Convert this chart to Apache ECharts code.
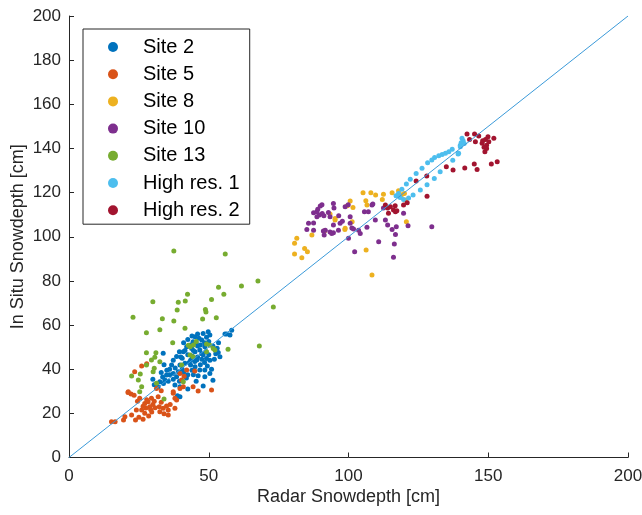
<!DOCTYPE html>
<html>
<head>
<meta charset="utf-8">
<script src="https://cdn.jsdelivr.net/npm/echarts@6/dist/echarts.min.js"></script>
<style>html,body{margin:0;padding:0;background:#fff}#c{width:642px;height:515px}</style>
</head>
<body>
<div id="c"></div>
<script>
const seriesNames = ['Site 2','Site 5','Site 8','Site 10','Site 13','High res. 1','High res. 2'];
const xTicks = [0,50,100,150,200];
const yTicks = [0,20,40,60,80,100,120,140,160,180,200];

const site2 = [[57.6,55.5],[58.2,57.7],[55.8,55.9],[49.8,57.0],[50.4,55.5],[49.2,54.5],[48.0,56.2],[47.5,53.2],[46.5,54.0],[45.1,54.7],[44.4,52.4],[43.5,51.0],[43.9,49.4],[42.1,50.2],[40.9,47.9],[39.5,47.9],[38.5,45.7],[40.0,45.5],[42.5,46.5],[45.1,47.9],[46.8,48.7],[48.6,50.2],[48.0,46.5],[49.2,44.9],[50.4,44.0],[47.5,44.5],[45.7,44.2],[43.5,44.0],[41.5,42.7],[39.7,41.9],[37.3,44.0],[36.7,41.9],[43.5,41.9],[45.1,41.1],[46.8,39.6],[48.6,39.6],[50.4,38.1],[48.6,36.6],[46.2,37.0],[44.5,37.5],[42.5,37.5],[41.0,38.5],[39.1,38.9],[37.3,38.1],[36.0,37.5],[34.9,37.4],[34.3,35.1],[35.5,34.5],[33.8,33.5],[33.5,36.5],[32.5,34.3],[31.9,32.1],[37.3,35.5],[38.5,36.6],[39.5,34.5],[37.9,32.8],[39.7,32.1],[33.7,47.2],[42.0,36.0],[48.0,32.4],[51.5,35.0],[39.7,27.5],[38.8,28.0],[46.0,45.5],[44.0,46.0],[47.0,42.0],[49.5,41.5],[51.0,40.0],[52.5,47.0],[53.0,49.5],[51.5,50.5],[46.0,50.5],[44.5,48.5],[41.5,48.5],[40.5,45.0],[43.0,43.0],[45.0,43.5],[47.5,47.0],[48.5,52.0],[47.0,51.0],[45.5,52.0],[50.0,52.5],[49.0,48.0],[46.0,56.0],[44.0,55.0],[42.5,53.5],[41.0,52.0],[36.0,40.0],[35.0,39.5],[34.0,42.0],[30.0,35.5],[30.5,33.0],[33.0,38.5],[38.0,40.5],[40.5,40.0],[44.0,39.5],[45.5,34.5],[42.5,31.0],[48.5,43.0],[50.0,46.5],[52.0,44.5],[53.5,52.0],[53.4,47.6],[54.0,45.6],[56.4,55.9]];

const site5 = [[15.2,16.2],[16.5,16.2],[19.5,17.0],[20.0,18.5],[21.1,29.5],[22.2,28.8],[23.3,28.2],[22.4,19.2],[23.8,17.0],[25.0,18.2],[26.5,17.3],[24.1,21.5],[26.0,21.5],[27.1,24.5],[28.3,25.3],[28.9,23.0],[27.5,22.4],[29.2,21.8],[29.5,26.8],[30.5,25.5],[31.9,27.5],[25.3,26.8],[32.3,23.0],[33.7,22.3],[34.9,23.3],[35.5,21.5],[32.5,20.7],[34.0,19.8],[27.1,20.0],[28.5,18.8],[37.3,29.1],[38.5,26.0],[37.9,22.3],[35.5,19.2],[39.7,31.3],[40.3,35.1],[40.9,32.1],[31.3,31.3],[33.0,30.2],[39.7,38.1],[23.5,38.9],[26.0,41.4],[27.8,42.5],[41.2,36.8],[46.2,30.1],[51.0,30.6],[44.4,32.1],[42.1,39.6],[45.0,39.2],[37.3,29.8],[37.9,26.8],[21.2,29.8],[30.0,24.0],[29.6,20.6],[26.5,23.2],[27.8,26.2],[33.0,25.0],[24.5,25.5],[30.8,22.5],[36.2,24.0]];

const site8 = [[81.5,99.3],[80.7,97.0],[80.7,92.2],[84.3,94.7],[85.3,93.2],[83.3,90.5],[86.9,100.8],[91.5,102.7],[93.4,110.3],[95.2,108.3],[95.2,107.6],[100.6,116.2],[101.6,113.3],[99.6,114.0],[101.3,106.8],[98.7,103.3],[98.8,103.8],[105.2,119.9],[108.0,119.9],[109.7,118.9],[106.2,116.3],[106.6,114.4],[112.5,119.3],[112.1,116.9],[115.6,119.9],[106.3,94.0],[108.4,82.7],[117.9,120.8],[120.0,119.6],[118.5,118.1],[120.3,116.6],[120.7,106.8],[119.0,119.0]];

const site10 = [[87.5,110.9],[88.7,111.3],[89.9,113.9],[90.5,114.5],[89.0,112.5],[89.6,109.8],[90.6,110.5],[91.2,109.5],[88.7,109.1],[85.7,106.1],[87.5,106.2],[85.1,103.3],[87.5,103.0],[91.0,102.6],[91.3,100.8],[93.4,102.2],[94.6,101.8],[96.4,103.0],[94.6,105.3],[97.0,106.1],[97.8,107.0],[93.4,109.1],[92.8,111.0],[94.6,115.1],[94.8,113.0],[96.5,109.5],[100.6,109.1],[100.6,106.1],[101.2,104.0],[98.8,113.6],[99.9,114.5],[103.6,103.0],[104.2,101.5],[100.0,99.3],[101.8,103.5],[105.7,111.3],[107.1,111.3],[108.4,114.4],[109.6,107.6],[113.2,107.6],[114.0,105.3],[115.6,103.3],[117.1,104.5],[116.8,101.0],[116.4,96.7],[110.8,97.7],[106.6,104.3],[102.2,93.2],[116.1,90.7],[129.8,104.5],[119.7,110.6],[121.3,105.0],[91.7,103.0],[94.0,101.5],[108.7,114.8],[112.5,113.0]];

const site13 = [[37.5,93.5],[55.9,92.2],[67.6,79.9],[61.7,77.7],[53.5,77.1],[55.4,74.0],[42.4,74.0],[30.0,70.6],[39.1,70.3],[41.6,70.9],[51.0,71.6],[38.7,66.8],[48.8,67.1],[49.0,65.9],[73.1,68.2],[22.9,63.5],[33.4,62.9],[37.5,61.8],[47.8,62.7],[52.7,63.3],[27.7,56.5],[32.5,57.9],[41.5,58.6],[68.1,50.5],[56.9,49.0],[37.1,52.0],[43.3,50.2],[44.5,51.0],[49.2,51.4],[51.6,49.4],[27.7,47.5],[31.1,47.5],[30.7,45.4],[22.4,36.9],[26.0,32.1],[25.3,29.8],[27.7,41.9],[29.5,44.2],[32.5,43.4],[30.5,40.4],[34.0,26.5],[24.8,35.1],[30.1,38.9],[31.3,33.6],[40.3,41.9],[40.9,34.3],[42.7,50.9],[43.3,46.4],[44.4,45.6],[49.2,47.9],[52.2,48.7],[50.4,50.9],[45.5,52.5],[25.5,37.8]];

const highRes1 = [[140.6,144.6],[141.0,143.5],[140.3,142.6],[141.4,142.2],[140.0,141.5],[140.0,140.8],[139.2,137.5],[137.3,134.7],[137.1,139.6],[135.9,138.5],[134.7,137.8],[133.5,137.3],[132.3,136.7],[130.8,135.9],[129.8,134.8],[128.3,133.5],[126.3,131.0],[124.2,128.7],[122.1,126.0],[120.7,123.9],[119.1,121.5],[117.9,119.6],[117.0,118.6],[118.5,117.8],[119.7,116.9],[121.5,117.5],[123.1,118.9],[125.7,121.2],[128.1,123.5],[130.7,126.4],[132.8,129.4],[139.4,137.8]];

const highRes2 = [[142.4,146.5],[145.1,146.5],[146.6,145.6],[143.3,144.1],[145.4,143.0],[147.8,142.3],[149.0,144.1],[149.9,145.3],[152.0,144.6],[149.4,141.5],[148.8,138.5],[148.5,140.5],[150.2,143.0],[149.4,140.0],[153.2,134.0],[151.1,132.9],[146.0,130.5],[145.0,132.9],[141.6,131.2],[137.4,130.2],[135.0,131.7],[128.0,127.5],[124.2,125.2],[128.1,118.4],[121.0,115.4],[119.7,114.4],[116.7,114.0],[113.2,114.4],[114.0,113.0],[115.0,113.6],[116.1,112.1],[116.8,111.3],[114.3,110.6],[117.3,111.8],[148.0,143.5]];

const identityLine = [[0,0],[200,200]];

const colors = ['#0072BD','#D95319','#EDB120','#7E2F8E','#77AC30','#4DBEEE','#A2142F'];
const seriesData = [site2, site5, site8, site10, site13, highRes1, highRes2];
const font = '"Liberation Sans", Arial, Helvetica, sans-serif';
const axisColor = '#262626';

const chart = echarts.init(document.getElementById('c'));
const series = seriesNames.map((n, i) => ({
  name: n, type: 'scatter', data: seriesData[i], symbol: 'circle', symbolSize: 5,
  itemStyle: { color: colors[i], opacity: 1 }, z: 2
}));
series.push({
  name: 'identity', type: 'line', data: identityLine, showSymbol: false, symbol: 'none',
  lineStyle: { color: '#3b9ad9', width: 1 }, silent: true, z: 3
});

chart.setOption({
  animation: false,
  backgroundColor: '#fff',
  textStyle: { fontFamily: font },
  grid: { left: 69, right: 14, top: 16, bottom: 57.5, containLabel: false, outerBoundsMode: 'none' },
  legend: {
    data: seriesNames, orient: 'vertical', left: 83, top: 29,
    padding: [8, 10, 4, 25], itemGap: 7.2, itemWidth: 50, itemHeight: 10,
    icon: 'circle', borderColor: axisColor, borderWidth: 1, backgroundColor: '#fff',
    textStyle: { fontSize: 20, color: '#000', fontFamily: font, lineHeight: 20 }
  },
  xAxis: {
    type: 'value', min: 0, max: 200, interval: 50,
    name: 'Radar Snowdepth [cm]', nameLocation: 'middle', nameGap: 31, nameMoveOverlap: false,
    nameTextStyle: { fontSize: 18, color: axisColor, fontFamily: font },
    axisLine: { show: true, lineStyle: { color: axisColor, width: 1 } },
    axisTick: { show: true, inside: true, length: 5, lineStyle: { color: axisColor } },
    axisLabel: { fontSize: 17, color: axisColor, margin: 10, fontFamily: font },
    splitLine: { show: false }
  },
  yAxis: {
    type: 'value', min: 0, max: 200, interval: 20,
    name: 'In Situ Snowdepth [cm]', nameLocation: 'middle', nameGap: 42, nameMoveOverlap: false,
    nameTextStyle: { fontSize: 18, color: axisColor, fontFamily: font },
    axisLine: { show: true, lineStyle: { color: axisColor, width: 1 } },
    axisTick: { show: true, inside: true, length: 5, lineStyle: { color: axisColor } },
    axisLabel: { fontSize: 17, color: axisColor, margin: 8, fontFamily: font },
    splitLine: { show: false }
  },
  series: series
});
</script>
</body>
</html>
